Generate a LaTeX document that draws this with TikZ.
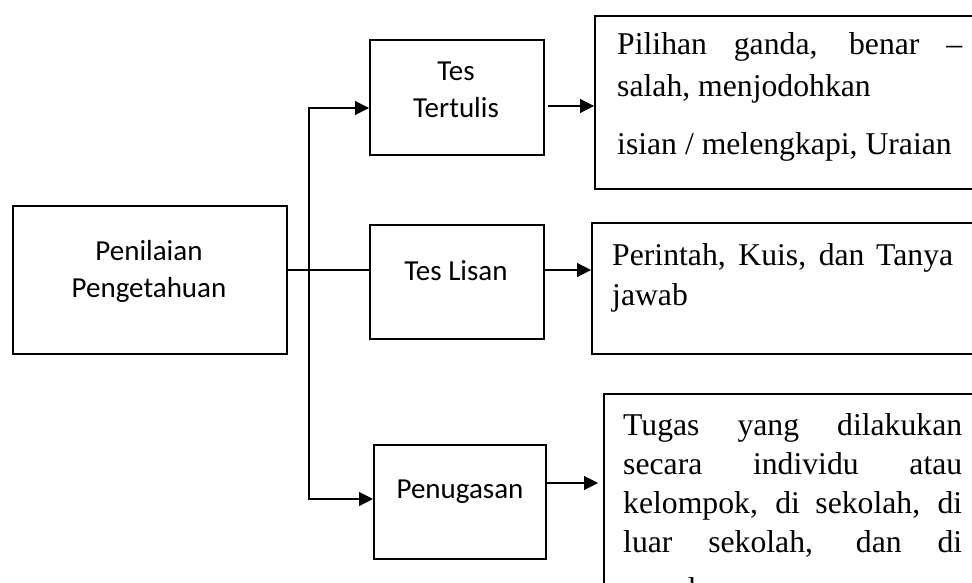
\documentclass[tikz,border=0pt]{standalone}
\usepackage{fontspec}
\newfontfamily\boxfont{Carlito}
\newfontfamily\notefont{Liberation Serif}
\usetikzlibrary{arrows.meta}
\begin{document}
\begin{tikzpicture}[x=1pt,y=-1pt,
  box/.style={draw, line width=2.2pt, inner sep=0pt, anchor=north west},
  boxtext/.style={font=\boxfont\fontsize{29}{37}\selectfont, align=center, inner sep=0pt},
  note/.style={inner sep=0pt, anchor=base west},
  conn/.style={line width=1.2pt},
  tip/.style={-{Triangle[length=14pt,width=14pt]}},
  arr/.style={conn, tip}]
\useasboundingbox (0,0) rectangle (972,583);
\clip (0,0) rectangle (972,583);

% left-hand category boxes
\node[box, minimum width=274pt, minimum height=148pt] (pp) at (12,205) {};
\node[boxtext] (ppt) at (149,271) {Penilaian\\Pengetahuan};

\node[box, minimum width=174pt, minimum height=115pt] (tt) at (369,39) {};
\node[boxtext] (ttt) at (456,89.5) {Tes\\Tertulis};

\node[box, minimum width=174pt, minimum height=114pt] (tl) at (369,224) {};
\node[boxtext] (tlt) at (456,271) {Tes Lisan};

\node[box, minimum width=172pt, minimum height=114pt] (pg) at (373,444) {};
\node[boxtext] (pgt) at (460,492) {Penugasan};

% right-hand description boxes (running past the right edge)
\node[box, minimum width=420pt, minimum height=173pt] (r1) at (594,15) {};
\node[note] (r1t) at (617,55) {\parbox[t]{345pt}{\notefont\fontsize{31.7}{42}\selectfont
  \hyphenpenalty10000\exhyphenpenalty10000
  Pilihan ganda, benar –\linebreak salah, menjodohkan\par\vspace{16pt}%
  isian / melengkapi, Uraian}};

\node[box, minimum width=420pt, minimum height=131pt] (r2) at (591,222) {};
\node[note] (r2t) at (612,265) {\parbox[t]{341pt}{\notefont\fontsize{31.7}{40}\selectfont
  \hyphenpenalty10000\exhyphenpenalty10000
  Perintah, Kuis, dan Tanya\linebreak jawab}};

\node[box, minimum width=420pt, minimum height=250pt] (r3) at (603,393) {};
\node[note] (r3t) at (623,435) {\parbox[t]{339pt}{\notefont\fontsize{31.7}{39}\selectfont
  \hyphenpenalty10000\exhyphenpenalty10000
  Tugas yang dilakukan\linebreak secara individu atau\linebreak
  kelompok, di sekolah, di\linebreak luar sekolah, dan di\vadjust{\vskip 8pt}\linebreak rumah.}};

% connector levels
\coordinate (sp1) at (309,108);
\coordinate (sp2) at (309,499);
\coordinate (mid) at (309,270);
\coordinate (lv1) at (0,106);
\coordinate (lv2) at (0,270);
\coordinate (lv3) at (0,483);

% branching spine
\draw[conn] (pp.east |- mid) -- (tl.west |- mid);
\draw[conn, {Triangle[length=14pt,width=14pt]}-{Triangle[length=14pt,width=14pt]}]
  (tt.west |- sp1) -- (sp1) -- (sp2) -- (pg.west |- sp2);

% arrows to the descriptions
\draw[arr] ([xshift=3pt]tt.east |- lv1) -- (r1.west |- lv1);
\draw[arr] (tl.east |- lv2) -- (r2.west |- lv2);
\draw[arr, shorten >=5pt] (pg.east |- lv3) -- (r3.west |- lv3);
\end{tikzpicture}
\end{document}
